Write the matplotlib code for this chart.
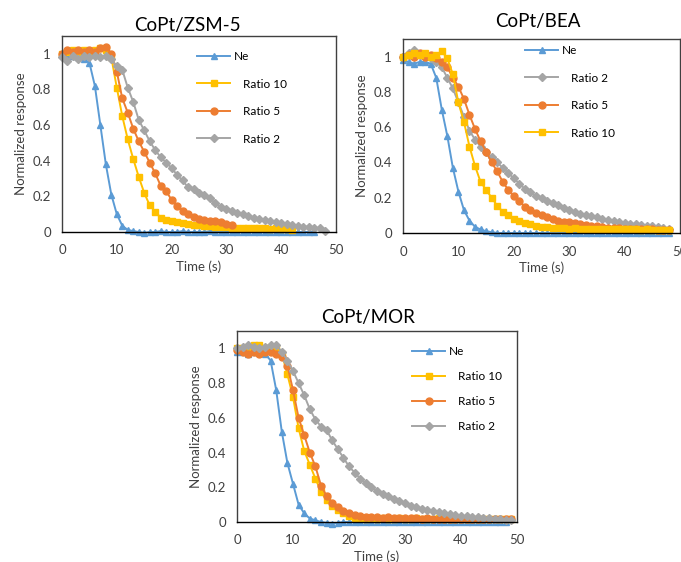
import matplotlib
matplotlib.use('Agg')
import matplotlib.pyplot as plt

plt.rcParams['font.family'] = ['Lato', 'DejaVu Sans']

# sampling grid (s), one point per second
time_s = list(range(0, 50))

# ---- CoPt/ZSM-5 ----
zsm_ne = [1.00, 0.98, 0.99, 0.98, 0.97, 0.95, 0.82, 0.60, 0.38, 0.21,
          0.10, 0.035, 0.012, 0.005, 0.00, -0.005, 0.00, 0.00, 0.005, 0.00,
          0.00, 0.00, 0.005, 0.00, 0.00, 0.00, 0.00, 0.005, 0.00, 0.00,
          0.00, 0.00, 0.00, 0.00, 0.00, 0.00, 0.00, 0.00, 0.00, 0.00,
          0.00, 0.00, 0.00, 0.00, 0.00, 0.00, 0.00]
zsm_r10 = [1.00, 1.01, 1.02, 1.01, 1.02, 1.01, 1.02, 1.03, 1.02, 0.98,
           0.81, 0.65, 0.52, 0.41, 0.31, 0.22, 0.15, 0.115, 0.08, 0.07,
           0.06, 0.055, 0.05, 0.045, 0.04, 0.04, 0.035, 0.035, 0.03, 0.03,
           0.03, 0.025, 0.025, 0.025, 0.02, 0.02, 0.02, 0.02, 0.015, 0.02,
           0.015, 0.015, 0.01]
zsm_r5 = [1.00, 1.02, 1.01, 1.02, 1.01, 1.02, 1.01, 1.03, 1.04, 1.00,
          0.90, 0.75, 0.67, 0.58, 0.51, 0.45, 0.39, 0.33, 0.26, 0.23,
          0.18, 0.145, 0.12, 0.10, 0.085, 0.075, 0.065, 0.06, 0.06, 0.055,
          0.045, 0.04]
zsm_r2 = [0.98, 0.96, 0.99, 0.97, 0.99, 0.98, 0.99, 0.98, 0.99, 0.97,
          0.93, 0.91, 0.81, 0.73, 0.63, 0.57, 0.51, 0.46, 0.42, 0.39,
          0.36, 0.32, 0.29, 0.25, 0.24, 0.22, 0.21, 0.19, 0.16, 0.14,
          0.13, 0.12, 0.105, 0.10, 0.09, 0.08, 0.075, 0.07, 0.06, 0.055,
          0.05, 0.045, 0.04, 0.035, 0.03, 0.03, 0.02, 0.025, 0.005]

# ---- CoPt/BEA ----
bea_ne = [0.98, 0.97, 0.96, 0.97, 0.97, 0.96, 0.88, 0.70, 0.55, 0.37,
          0.235, 0.13, 0.07, 0.035, 0.02, 0.01, 0.005, 0.00, 0.00, 0.00,
          0.00, 0.00, 0.00, 0.00, 0.00, 0.00, 0.00, 0.00, 0.00, 0.00,
          0.00, 0.00, 0.00, 0.00, 0.00, 0.00, 0.00, 0.00, 0.00, 0.00,
          0.00, 0.00, 0.00, 0.00, 0.00, 0.00, 0.00, 0.00, 0.00]
bea_r2 = [1.00, 1.02, 1.04, 1.01, 1.00, 0.99, 0.97, 0.94, 0.88, 0.82,
          0.74, 0.66, 0.58, 0.53, 0.49, 0.46, 0.43, 0.40, 0.37, 0.34,
          0.31, 0.28, 0.25, 0.23, 0.21, 0.20, 0.18, 0.17, 0.16, 0.14,
          0.13, 0.12, 0.11, 0.10, 0.095, 0.09, 0.08, 0.075, 0.07, 0.06,
          0.055, 0.05, 0.05, 0.045, 0.04, 0.04, 0.035, 0.03, 0.025]
bea_r5 = [1.00, 1.01, 1.00, 1.02, 1.00, 1.01, 0.99, 0.97, 0.94, 0.88,
          0.83, 0.76, 0.67, 0.59, 0.52, 0.46, 0.40, 0.35, 0.29, 0.245,
          0.21, 0.18, 0.15, 0.13, 0.115, 0.10, 0.09, 0.08, 0.07, 0.065,
          0.06, 0.055, 0.05, 0.045, 0.04, 0.04, 0.035, 0.03, 0.03, 0.03,
          0.025, 0.025, 0.02, 0.02, 0.02, 0.02, 0.015, 0.015, 0.015]
bea_r10 = [1.00, 1.01, 1.02, 1.01, 1.02, 1.00, 1.01, 1.03, 0.99, 0.90,
           0.74, 0.63, 0.49, 0.38, 0.29, 0.245, 0.20, 0.155, 0.12, 0.10,
           0.08, 0.07, 0.055, 0.05, 0.04, 0.035, 0.035, 0.03, 0.03, 0.03,
           0.025, 0.03, 0.025, 0.025, 0.02, 0.025, 0.02, 0.02, 0.025, 0.02,
           0.02, 0.02, 0.02, 0.015, 0.02, 0.015, 0.015, 0.015, 0.015]

# ---- CoPt/MOR ----
mor_ne = [0.98, 0.98, 0.97, 0.98, 0.98, 0.97, 0.93, 0.76, 0.52, 0.34,
          0.22, 0.10, 0.05, 0.02, 0.01, 0.00, -0.005, -0.01, -0.005, 0.00,
          0.00, 0.00, 0.00, 0.00, 0.00, 0.00, 0.00, 0.00, 0.00, 0.00,
          0.00, 0.00, 0.00, 0.00, 0.00, 0.00, 0.00, 0.00, 0.00, 0.00,
          0.00, 0.00, 0.00, 0.00, 0.00, 0.00, 0.00, 0.00, 0.00]
mor_r10 = [1.00, 1.00, 1.01, 1.02, 1.02, 1.00, 1.01, 1.00, 0.97, 0.85,
           0.72, 0.54, 0.41, 0.33, 0.25, 0.175, 0.125, 0.095, 0.07, 0.05,
           0.035, 0.025, 0.025, 0.02, 0.025, 0.02, 0.025, 0.02, 0.02, 0.025,
           0.02, 0.02, 0.025, 0.02, 0.02, 0.02, 0.025, 0.02, 0.02, 0.02,
           0.02, 0.02, 0.02, 0.02, 0.02, 0.02, 0.015, 0.015, 0.02, 0.015]
mor_r5 = [0.99, 0.98, 0.97, 0.98, 0.97, 0.98, 0.98, 0.97, 0.95, 0.90,
          0.76, 0.60, 0.50, 0.40, 0.32, 0.21, 0.15, 0.11, 0.085, 0.065,
          0.05, 0.04, 0.035, 0.03, 0.03, 0.03, 0.025, 0.03, 0.025, 0.025,
          0.025, 0.025, 0.025, 0.02, 0.025, 0.02, 0.02, 0.02, 0.02, 0.02,
          0.02, 0.02, 0.02, 0.02, 0.015, 0.02, 0.015, 0.015, 0.015, 0.015]
mor_r2 = [1.00, 1.01, 1.02, 1.01, 1.00, 1.01, 1.02, 1.02, 0.98, 0.93,
          0.87, 0.80, 0.73, 0.65, 0.59, 0.55, 0.53, 0.47, 0.42, 0.37,
          0.32, 0.285, 0.25, 0.225, 0.20, 0.18, 0.16, 0.15, 0.135, 0.12,
          0.11, 0.095, 0.085, 0.075, 0.068, 0.062, 0.055, 0.05, 0.045, 0.04,
          0.036, 0.033, 0.03, 0.027, 0.024, 0.022, 0.02, 0.017, 0.014, 0.01]

x_ticks = [0, 10, 20, 30, 40, 50]
y_ticks = [0, 0.2, 0.4, 0.6, 0.8, 1]
y_tick_labels = ['0', '0.2', '0.4', '0.6', '0.8', '1']

# excel-like series styles
styles = {
    'Ne': dict(color='#5B9BD5', marker='^', ms=5),
    'Ratio 10': dict(color='#FFC000', marker='s', ms=4.8),
    'Ratio 5': dict(color='#ED7D31', marker='o', ms=5),
    'Ratio 2': dict(color='#A5A5A5', marker='D', ms=4.2),
}

W, H = 681, 562
fig = plt.figure(figsize=(W / 100, H / 100), dpi=100)


def draw_panel(rect, title, title_xy, series, legend_xy, spacing):
    ax = fig.add_axes([rect[0] / W, 1 - rect[3] / H, (rect[2] - rect[0]) / W, (rect[3] - rect[1]) / H])
    for name, values in series:
        st = styles[name]
        label = name if name == 'Ne' else '   ' + name
        ax.plot(time_s[:len(values)], values, color=st['color'], marker=st['marker'],
                markersize=st['ms'], linewidth=1.4, label=label, clip_on=False)
    ax.set_xlim(0, 50)
    ax.set_ylim(0, 1.1)
    ax.set_xticks(x_ticks)
    ax.set_yticks(y_ticks)
    ax.set_yticklabels(y_tick_labels)
    ax.tick_params(length=0, labelsize=9.5, colors='#404040')
    ax.tick_params(axis='y', pad=8)
    ax.tick_params(axis='x', pad=9)
    for s in ax.spines.values():
        s.set_color('#404040')
        s.set_linewidth(1.0)
    ax.spines['bottom'].set_color('black')
    ax.set_xlabel('Time (s)', fontsize=9.5, labelpad=3, color='#404040')
    ax.set_ylabel('Normalized response', fontsize=9.5, labelpad=4, color='#404040')
    fig.text(title_xy[0] / W, 1 - title_xy[1] / H, title, ha='center', va='center', fontsize=13.5)
    ax.legend(loc='upper left', bbox_to_anchor=(legend_xy[0] / W, 1 - legend_xy[1] / H),
              bbox_transform=fig.transFigure, frameon=False, fontsize=8.5,
              handlelength=2.8, handletextpad=0.3, labelspacing=spacing,
              borderpad=0, borderaxespad=0)
    return ax


draw_panel((62, 36, 336, 232), 'CoPt/ZSM-5', (187, 25),
           [('Ne', zsm_ne), ('Ratio 10', zsm_r10), ('Ratio 5', zsm_r5), ('Ratio 2', zsm_r2)],
           (197, 51), 1.4)
draw_panel((403, 39, 680, 233), 'CoPt/BEA', (538, 21),
           [('Ne', bea_ne), ('Ratio 2', bea_r2), ('Ratio 5', bea_r5), ('Ratio 10', bea_r10)],
           (525, 45), 1.4)
draw_panel((237, 331, 517, 522), 'CoPt/MOR', (368, 318),
           [('Ne', mor_ne), ('Ratio 10', mor_r10), ('Ratio 5', mor_r5), ('Ratio 2', mor_r2)],
           (412, 346), 1.2)

fig.savefig('out.png', dpi=100)
